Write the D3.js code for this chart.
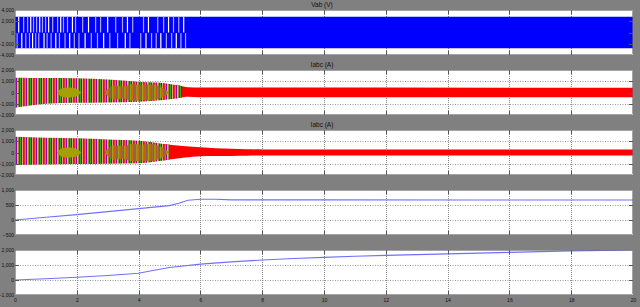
<!DOCTYPE html>
<html>
<head>
<meta charset="utf-8">
<script src="https://cdn.jsdelivr.net/npm/d3@7"></script>
<style>
  html, body { margin: 0; padding: 0; background: #808080; }
  svg { display: block; }
  text { font-family: "Liberation Sans", Arial, sans-serif; font-size: 6.5px; fill: #111; }
</style>
</head>
<body>
<svg id="chart"></svg>
<script>
// time axis
var tTicks = [0, 2, 4, 6, 8, 10, 12, 14, 16, 18, 20];

// panel 1 : Vab (V), PWM band and the light gaps seen before t = 5.5
var vabT = [0, 20];
var vabMax = [2800, 2800];
var vabMin = [-2800, -2800];
var vabGapsUp = [0.10, 0.26, 0.39, 0.49, 0.58, 0.68, 0.78, 0.87, 0.97, 1.07, 1.20, 1.36, 1.46, 1.55, 1.68,
    1.84, 1.94, 2.17, 2.36, 2.59, 2.75, 2.98, 3.24, 3.46, 3.62, 3.79, 4.14, 4.30, 4.60, 4.79, 4.95, 5.11, 5.28, 5.44];
var vabGapsDown = [0.05, 0.20, 0.33, 0.45, 0.55, 0.65, 0.75, 0.92, 1.02, 1.15, 1.30, 1.42, 1.60, 1.75, 1.90,
    2.05, 2.25, 2.45, 2.65, 2.85, 3.05, 3.30, 3.55, 3.70, 4.05, 4.22, 4.40, 4.55, 4.70, 4.88, 5.05, 5.20, 5.35, 5.50];

// panel 2 : Iabc (A) envelope
var i1T = [0, 0.5, 1, 2, 3, 4, 4.6, 5, 5.3, 5.6, 6, 20];
var i1Max = [1320, 1300, 1280, 1260, 1150, 960, 880, 760, 620, 470, 440, 430];
var i1Min = [-1350, -1150, -1000, -920, -880, -820, -720, -600, -480, -380, -420, -420];
var i1Red = 5.4;
var i1OliveT = [1.35, 1.55, 1.75, 1.95, 2.15];
var i1OliveA = [0, 400, 450, 380, 0];
var i1BrownT = [2.9, 3.2, 3.5, 3.8, 4.1, 4.4, 4.7, 5.0];
var i1BrownA = [0, 620, 540, 740, 660, 720, 520, 0];

// panel 3 : Iabc (A) envelope
var i2T = [0, 1, 2, 3, 4, 4.5, 5, 5.5, 6, 6.5, 7, 7.5, 8, 9, 20];
var i2Max = [1400, 1320, 1260, 1150, 1050, 900, 700, 560, 460, 380, 330, 290, 270, 260, 260];
var i2Min = [-1120, -1060, -1020, -990, -960, -820, -620, -450, -330, -320, -300, -280, -270, -260, -260];
var i2Red = 5.0;
var i2OliveT = [1.35, 1.55, 1.75, 1.95, 2.15];
var i2OliveA = [0, 400, 450, 380, 0];
var i2BrownT = [2.9, 3.2, 3.5, 3.8, 4.1, 4.4, 4.7, 5.0];
var i2BrownA = [0, 640, 580, 780, 700, 760, 540, 0];

// panel 4
var p4T = [0, 1, 2, 3, 4, 4.5, 5, 5.3, 5.6, 6, 6.5, 7, 10, 15, 20];
var p4V = [0, 90, 180, 280, 380, 430, 480, 560, 660, 690, 690, 670, 670, 665, 665];

// panel 5
var p5T = [0, 1, 2, 3, 4, 4.5, 5, 6, 7, 8, 9, 10, 11, 12, 13, 14, 15, 16, 17, 18, 19, 20];
var p5V = [0, 80, 180, 300, 450, 650, 830, 1060, 1210, 1330, 1430, 1510, 1580, 1640, 1690, 1740, 1790, 1840, 1890, 1940, 1970, 2000];

var W = 640, H = 307;
var svg = d3.select("#chart").attr("width", W).attr("height", H);
svg.append("rect").attr("width", W).attr("height", H).attr("fill", "#808080");

var x = d3.scaleLinear().domain([0, 20]).range([15, 633]);

var panels = [
    { top: 10, bottom: 55, domain: [-4000, 4000], ticks: [-4000, -2000, 0, 2000, 4000], title: "Vab (V)" },
    { top: 70, bottom: 115, domain: [-2000, 2000], ticks: [-2000, -1000, 0, 1000, 2000], title: "Iabc (A)" },
    { top: 130, bottom: 175, domain: [-2000, 2000], ticks: [-2000, -1000, 0, 1000, 2000], title: "Iabc (A)" },
    { top: 190, bottom: 235, domain: [-500, 1000], ticks: [-500, 0, 500, 1000], title: "" },
    { top: 250, bottom: 295, domain: [-1000, 2000], ticks: [-1000, 0, 1000, 2000], title: "" }
];

// stripe texture for the early multi-phase currents
var defs = svg.append("defs");
var mixColors = ["#20b020", "#8a00a0", "#ff9474", "#7030c0", "#e03030", "#60b060", "#9a00b0", "#ffa080", "#a09020", "#5a2aa0"];
var brownColors = ["#c86010", "#a87000", "#8a6a48", "#b05a10", "#a0a000", "#c87020"];
function stripes(id, colors) {
    var p = defs.append("pattern").attr("id", id).attr("patternUnits", "userSpaceOnUse")
        .attr("width", colors.length).attr("height", 10);
    colors.forEach(function(c, i) {
        p.append("rect").attr("x", i).attr("y", 0).attr("width", 1).attr("height", 10).attr("fill", c);
    });
}
stripes("mix", mixColors);
stripes("brown", brownColors);

var tickFont = "5px";

panels.forEach(function(p, k) {
    p.y = d3.scaleLinear().domain(p.domain).range([p.bottom, p.top]);
    var g = svg.append("g");
    p.g = g;
    g.append("rect").attr("x", x(0)).attr("y", p.top).attr("width", x(20) - x(0)).attr("height", p.bottom - p.top)
        .attr("fill", "#fff");
    p.grid = g.append("g");
    defs.append("clipPath").attr("id", "clip" + k).append("rect")
        .attr("x", x(0)).attr("y", p.top).attr("width", x(20) - x(0)).attr("height", p.bottom - p.top);
    p.plot = g.append("g").attr("clip-path", "url(#clip" + k + ")");
    p.frame = g.append("g");
    if (p.title) {
        g.append("text").attr("x", 322).attr("y", p.top - 3).attr("text-anchor", "middle").text(p.title);
    }
    drawGrid(p);
});

function drawGrid(p) {
    var g = p.grid, f = p.frame;
    p.ticks.forEach(function(v) {
        if (v === p.domain[0] || v === p.domain[1]) return;
        var yy = Math.round(p.y(v)) + 0.5;
        g.append("line").attr("x1", x(0)).attr("x2", x(20)).attr("y1", yy).attr("y2", yy)
            .attr("stroke", "#9a9a9a").attr("stroke-dasharray", "1,1.5");
        f.append("line").attr("x1", x(0)).attr("x2", x(0) + 4).attr("y1", yy).attr("y2", yy).attr("stroke", "#555");
        f.append("line").attr("x1", x(20) - 4).attr("x2", x(20)).attr("y1", yy).attr("y2", yy).attr("stroke", "#555");
    });
    tTicks.forEach(function(t) {
        if (t === 0 || t === 20) return;
        var xx = Math.round(x(t)) + 0.5;
        g.append("line").attr("x1", xx).attr("x2", xx).attr("y1", p.top).attr("y2", p.bottom)
            .attr("stroke", "#8a8a8a").attr("stroke-dasharray", "1,1");
        f.append("line").attr("x1", xx).attr("x2", xx).attr("y1", p.top).attr("y2", p.top + 4).attr("stroke", "#555");
        f.append("line").attr("x1", xx).attr("x2", xx).attr("y1", p.bottom - 4).attr("y2", p.bottom).attr("stroke", "#555");
    });
    var yAxis = d3.axisLeft(p.y).tickValues(p.ticks).tickSize(0).tickPadding(1);
    var ax = p.g.append("g").attr("transform", "translate(" + x(0) + ",0)").call(yAxis);
    ax.select(".domain").remove();
    ax.selectAll("text").attr("fill", "#111").style("font-size", tickFont)
        .style("font-family", "'Liberation Sans', Arial, sans-serif");
    f.append("rect").attr("x", x(0) + 0.5).attr("y", p.top + 0.5).attr("width", x(20) - x(0) - 1)
        .attr("height", p.bottom - p.top - 1).attr("fill", "none").attr("stroke", "#6a6a6a").attr("stroke-width", 0.6);
}

// panel 1
(function() {
    var p = panels[0];
    var band = d3.area().x(function(d) { return x(d[0]); })
        .y0(function(d) { return p.y(d[2]); }).y1(function(d) { return p.y(d[1]); });
    p.plot.append("path").datum(d3.zip(vabT, vabMax, vabMin)).attr("d", band).attr("fill", "#0000ff");
    p.plot.selectAll(".gu").data(vabGapsUp).enter().append("rect")
        .attr("x", function(d) { return x(d); }).attr("width", 1.2)
        .attr("y", p.y(vabMax[0])).attr("height", p.y(0) - p.y(vabMax[0]))
        .attr("fill", function(d, i) { return i % 3 === 0 ? "#ffffff" : "#a8a8ff"; });
    p.plot.selectAll(".gd").data(vabGapsDown).enter().append("rect")
        .attr("x", function(d) { return x(d); }).attr("width", 1.2)
        .attr("y", p.y(0) + 0.6).attr("height", p.y(vabMin[0]) - p.y(0) - 0.6)
        .attr("fill", function(d, i) { return i % 3 === 1 ? "#ffffff" : "#a8a8ff"; });
})();

// panels 2 and 3
function drawCurrents(p, T, mx, mn, tRed, oT, oA, bT, bA) {
    var rows = d3.zip(T, mx, mn);
    var band = d3.area().curve(d3.curveMonotoneX).x(function(d) { return x(d[0]); })
        .y0(function(d) { return p.y(d[2]); }).y1(function(d) { return p.y(d[1]); });
    var id = "early" + p.top;
    defs.append("clipPath").attr("id", id).append("rect")
        .attr("x", x(0)).attr("y", p.top).attr("width", x(tRed) - x(0)).attr("height", p.bottom - p.top);
    var idr = "late" + p.top;
    defs.append("clipPath").attr("id", idr).append("rect")
        .attr("x", x(tRed) - 6).attr("y", p.top).attr("width", x(20) - x(tRed) + 6).attr("height", p.bottom - p.top);
    p.plot.append("path").datum(rows).attr("d", band).attr("fill", "#ff0000").attr("clip-path", "url(#" + idr + ")");
    p.plot.append("path").datum(rows).attr("d", band).attr("fill", "url(#mix)").attr("clip-path", "url(#" + id + ")");
    var lens = d3.area().curve(d3.curveMonotoneX).x(function(d) { return x(d[0]); })
        .y0(function(d) { return p.y(-d[1]); }).y1(function(d) { return p.y(d[1]); });
    p.plot.append("path").datum(d3.zip(bT, bA)).attr("d", lens).attr("fill", "url(#brown)").attr("opacity", 0.9);
    p.plot.append("path").datum(d3.zip(oT, oA)).attr("d", lens).attr("fill", "#a4a000");
}
drawCurrents(panels[1], i1T, i1Max, i1Min, i1Red, i1OliveT, i1OliveA, i1BrownT, i1BrownA);
drawCurrents(panels[2], i2T, i2Max, i2Min, i2Red, i2OliveT, i2OliveA, i2BrownT, i2BrownA);

// panels 4 and 5
function drawLine(p, T, V) {
    var line = d3.line().x(function(d) { return x(d[0]); }).y(function(d) { return p.y(d[1]); });
    p.plot.append("path").datum(d3.zip(T, V)).attr("d", line)
        .attr("fill", "none").attr("stroke", "#7070ff").attr("stroke-width", 1.1);
}
drawLine(panels[3], p4T, p4V);
drawLine(panels[4], p5T, p5V);

// time axis labels under the last panel
var xAxis = d3.axisBottom(x).tickValues(tTicks).tickSize(0).tickPadding(3);
var xg = svg.append("g").attr("transform", "translate(0," + panels[4].bottom + ")").call(xAxis);
xg.select(".domain").remove();
xg.selectAll("text").attr("fill", "#111").style("font-size", tickFont)
    .style("font-family", "'Liberation Sans', Arial, sans-serif");
</script>
</body>
</html>
